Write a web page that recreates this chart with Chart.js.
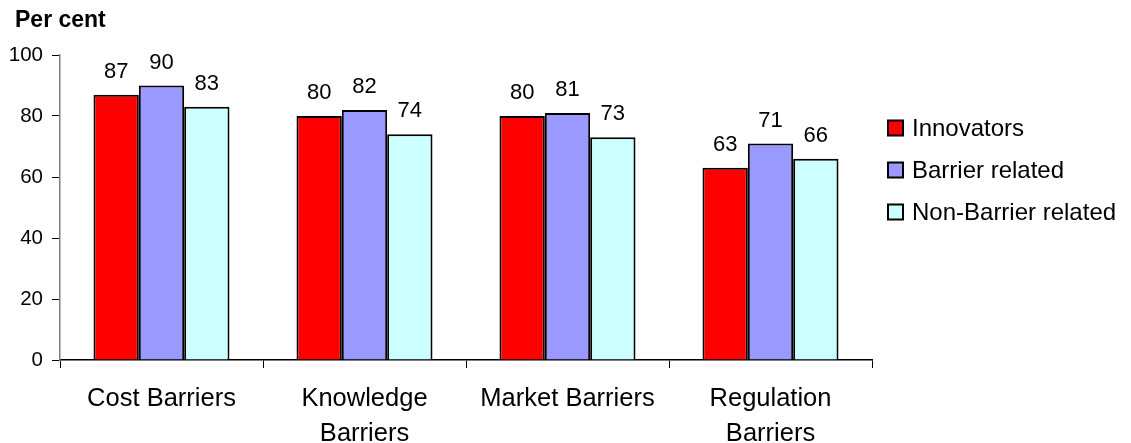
<!DOCTYPE html>
<html>
<head>
<meta charset="utf-8">
<script src="https://cdn.jsdelivr.net/npm/chart.js@4/dist/chart.umd.min.js"></script>
<style>
  html, body { margin: 0; padding: 0; background: #fff; }
  #wrap { width: 1131px; height: 443px; }
</style>
</head>
<body>
<div id="wrap"><canvas id="barriers"></canvas></div>
<script>
const categories = [["Cost Barriers"], ["Knowledge", "Barriers"], ["Market Barriers"], ["Regulation", "Barriers"]];
const seriesNames = ["Innovators", "Barrier related", "Non-Barrier related"];
const innovators = [87, 80, 80, 63];
const barrierRelated = [90, 82, 81, 71];
const nonBarrierRelated = [83, 74, 73, 66];
const yTicks = [0, 20, 40, 60, 80, 100];
const unitLabel = "Per cent";

const colours = ["#FF0000", "#9999FF", "#CCFFFF"];
const font = "'Liberation Sans', Arial, sans-serif";

// unit caption in the top left corner
const unitCaption = {
  id: "unitCaption",
  afterDraw(chart) {
    const { ctx } = chart;
    ctx.save();
    ctx.font = "bold 23px " + font;
    ctx.fillStyle = "#000";
    ctx.textBaseline = "middle";
    ctx.fillText(unitLabel, 15, 21);
    ctx.restore();
  }
};

// numbers above each bar
const valueLabels = {
  id: "valueLabels",
  afterDatasetsDraw(chart) {
    const { ctx } = chart;
    ctx.save();
    ctx.font = "22px " + font;
    ctx.fillStyle = "#000";
    ctx.textAlign = "center";
    ctx.textBaseline = "bottom";
    chart.data.datasets.forEach((ds, i) => {
      chart.getDatasetMeta(i).data.forEach((bar, j) => {
        ctx.fillText(ds.data[j], bar.x, bar.y - 12);
      });
    });
    ctx.restore();
  }
};

// legend on the right, boxes with black outline
const sideLegend = {
  id: "sideLegend",
  afterDraw(chart) {
    const { ctx, chartArea } = chart;
    const x = chartArea.right + 16;
    let y = 128;
    ctx.save();
    ctx.font = "24px " + font;
    ctx.textBaseline = "middle";
    chart.data.datasets.forEach((ds) => {
      ctx.fillStyle = ds.backgroundColor;
      ctx.fillRect(x, y - 7.5, 15, 15);
      ctx.strokeStyle = "#000";
      ctx.lineWidth = 2;
      ctx.strokeRect(x, y - 7.5, 15, 15);
      ctx.fillStyle = "#000";
      ctx.fillText(ds.label, x + 24, y + 1);
      y += 42;
    });
    ctx.restore();
  }
};

const seriesData = [innovators, barrierRelated, nonBarrierRelated];

new Chart(document.getElementById("barriers"), {
  type: "bar",
  data: {
    labels: categories,
    datasets: seriesNames.map((name, i) => ({
      label: name,
      data: seriesData[i],
      backgroundColor: colours[i],
      borderColor: "#000",
      borderWidth: 2,
      borderSkipped: "bottom",
      categoryPercentage: 0.67,
      barPercentage: 1
    }))
  },
  options: {
    responsive: true,
    maintainAspectRatio: false,
    animation: false,
    layout: { padding: { left: 0, right: 259, top: 55, bottom: 0 } },
    plugins: {
      legend: { display: false },
      tooltip: { enabled: false }
    },
    scales: {
      x: {
        grid: { drawOnChartArea: false, tickLength: 8, color: "#000", offset: true },
        border: { color: "#000", width: 1.5 },
        ticks: {
          color: "#000",
          padding: 14,
          font: { family: font, size: 25.5, lineHeight: 1.37 }
        },
        afterFit(scale) { scale.height = 83; }
      },
      y: {
        min: 0,
        max: 100,
        afterBuildTicks(scale) { scale.ticks = yTicks.map(v => ({ value: v })); },
        grid: { drawOnChartArea: false, tickLength: 8, color: "#000" },
        border: { color: "#808080", width: 1.5 },
        ticks: {
          color: "#000",
          padding: 9,
          font: { family: font, size: 20.5 }
        },
        afterFit(scale) { scale.width = 60; }
      }
    }
  },
  plugins: [unitCaption, valueLabels, sideLegend]
});
</script>
</body>
</html>
